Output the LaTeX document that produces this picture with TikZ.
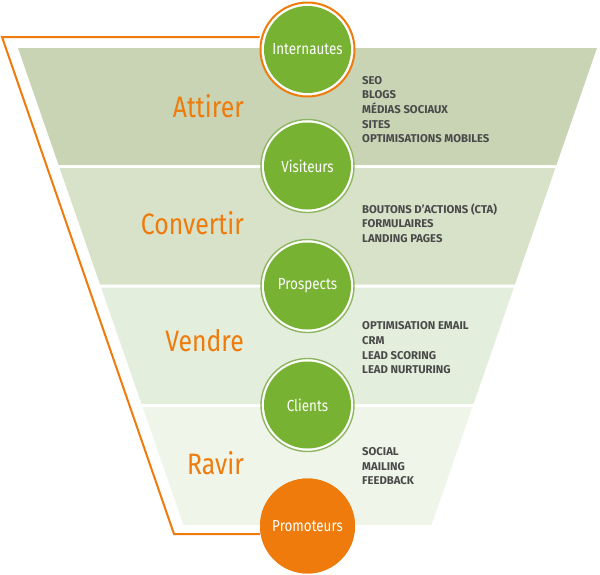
\documentclass[tikz,border=0pt]{standalone}
\usepackage{fontspec}
\newfontfamily\condfont[FakeStretch=0.84]{Fira Sans}
\newfontfamily\itemfont{Fira Sans}
\definecolor{bandA}{HTML}{C9D4B5}
\definecolor{bandB}{HTML}{D8E2C9}
\definecolor{bandC}{HTML}{E3EEDC}
\definecolor{bandD}{HTML}{EFF5E8}
\definecolor{fgreen}{HTML}{77B232}
\definecolor{rgreen}{HTML}{8DB660}
\definecolor{forange}{HTML}{EE7B0C}
\definecolor{tdark}{HTML}{4A4A4A}
\tikzset{
  ringnode/.style={circle,fill=white,draw=rgreen,line width=1.4pt,minimum size=93pt,inner sep=0pt},
  disknode/.style={circle,fill=fgreen,minimum size=87pt,inner sep=0pt,text=white,font=\condfont\fontsize{16}{18}\selectfont},
  stagelabel/.style={anchor=base east,inner sep=0pt,text=forange,font=\condfont\fontsize{29.5}{32}\selectfont},
  item/.style={anchor=base west,inner sep=0pt,text=tdark,font=\itemfont\bfseries\fontsize{11.3}{13}\selectfont},
  outline/.style={draw=forange,line width=2pt,line join=miter}
}
\begin{document}
\begin{tikzpicture}[x=1pt,y=-1pt]
\useasboundingbox (0,0) rectangle (600,574);
% bands
\fill[bandA] (18,48) -- (597,48) -- (556.4,165) -- (58.6,165) -- cycle;
\fill[bandB] (59.6,168) -- (555.4,168) -- (514.9,284.5) -- (100.1,284.5) -- cycle;
\fill[bandC] (101.1,287.5) -- (513.9,287.5) -- (473.5,404) -- (141.5,404) -- cycle;
\fill[bandD] (142.6,407) -- (472.4,407) -- (431.5,525) -- (183.5,525) -- cycle;
% circles (outer rings)
\node[ringnode,draw=forange,line width=2pt,minimum size=94pt] (intR) at (307.5,49.5) {};
\node[ringnode] (visR) at (307.5,166) {};
\node[ringnode] (proR) at (307.5,286) {};
\node[ringnode] (cliR) at (307.5,405) {};
% orange outline
\coordinate (tl) at (2,37);
\coordinate (bl) at (174,534);
\node[circle,fill=forange,minimum size=95pt,inner sep=0pt] (proM) at (307.5,526) {};
\draw[outline] (intR.west |- tl) -- (tl) -- (bl) -- (proM.west |- bl);
% inner disks
\node[disknode] (int) at (intR.center) {Internautes};
\node[disknode] (vis) at (visR.center) {Visiteurs};
\node[disknode] (pro) at (proR.center) {Prospects};
\node[disknode] (cli) at (cliR.center) {Clients};
\node[disknode,fill=forange,minimum size=95pt] (prom) at (proM.center) {Promoteurs};
% stage labels
\node[stagelabel] (s1) at (244,117) {Attirer};
\node[stagelabel] (s2) at (244,234) {Convertir};
\node[stagelabel] (s3) at (244,351) {Vendre};
\node[stagelabel] (s4) at (244,474) {Ravir};
% item lists
\foreach \t [count=\i] in {SEO,BLOGS,MÉDIAS SOCIAUX,SITES,OPTIMISATIONS MOBILES}
  \node[item] (a\i) at (362,84+14.7*\i-14.7) {\t};
\foreach \t [count=\i] in {BOUTONS D’ACTIONS (CTA),FORMULAIRES,LANDING PAGES}
  \node[item] (b\i) at (362,213+14.7*\i-14.7) {\t};
\foreach \t [count=\i] in {OPTIMISATION EMAIL,CRM,LEAD SCORING,LEAD NURTURING}
  \node[item] (c\i) at (362,329.7+14.7*\i-14.7) {\t};
\foreach \t [count=\i] in {SOCIAL,MAILING,FEEDBACK}
  \node[item] (d\i) at (362,455.3+14.7*\i-14.7) {\t};
\end{tikzpicture}
\end{document}
